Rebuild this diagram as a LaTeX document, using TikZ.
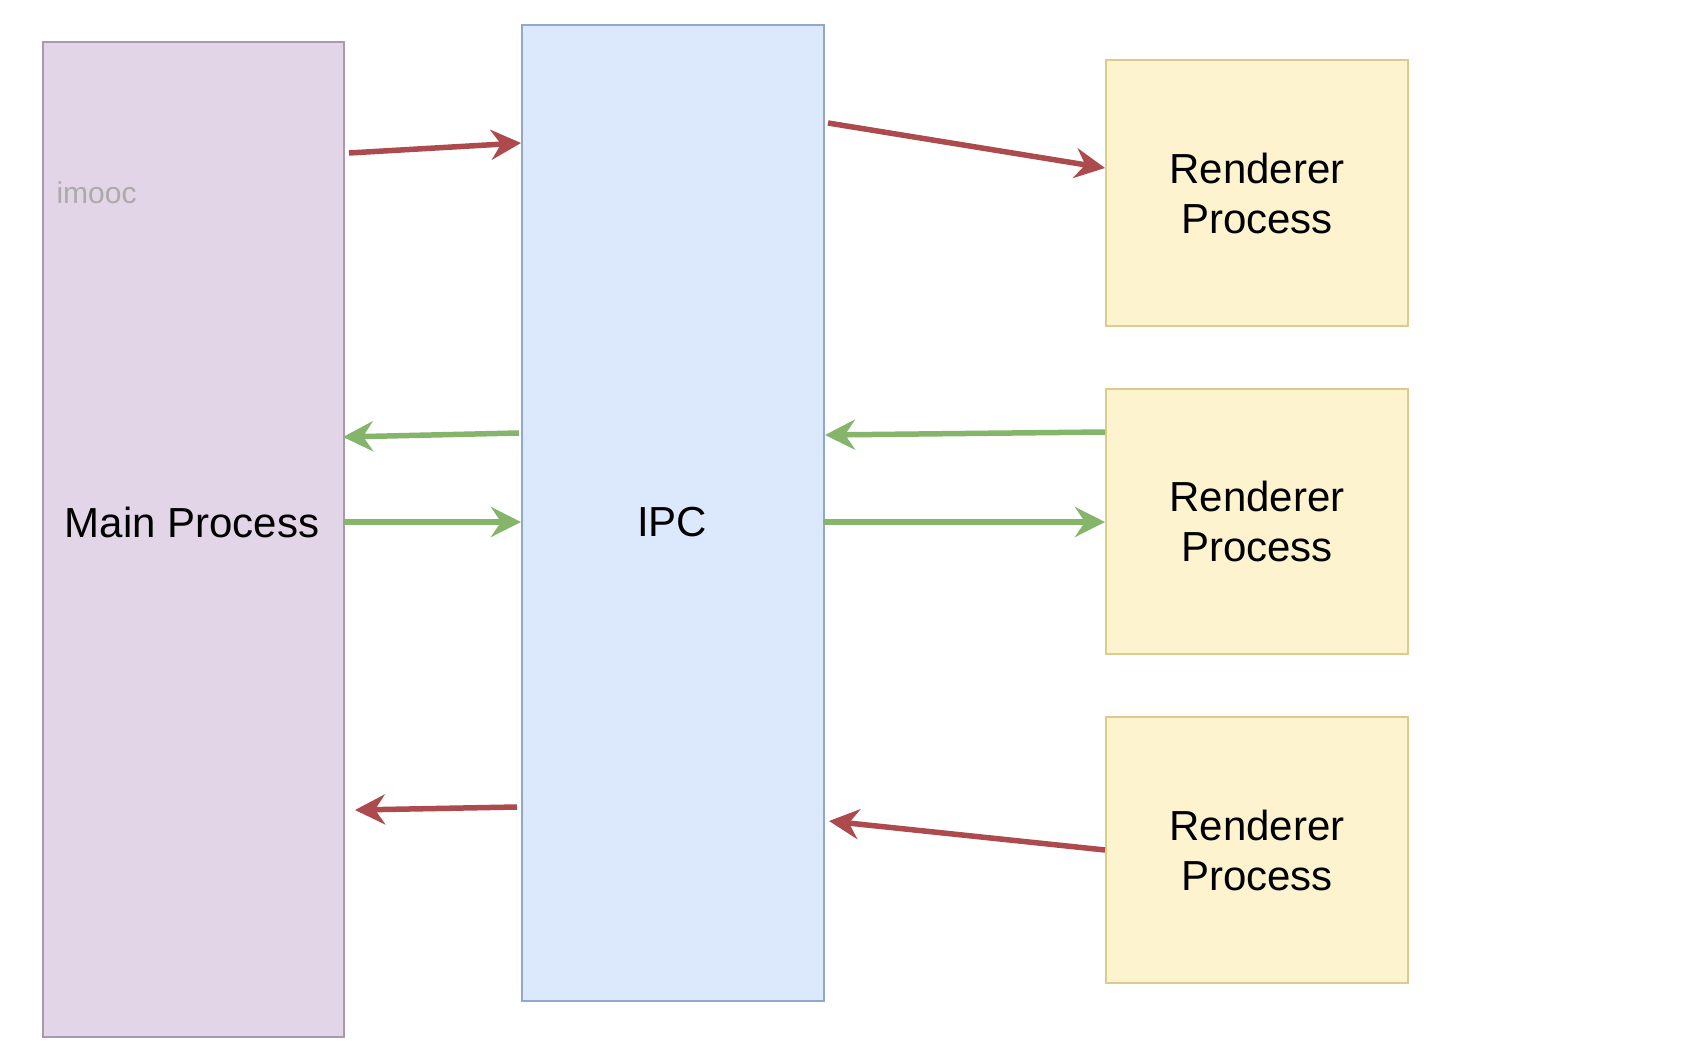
\documentclass[tikz,border=0pt]{standalone}
\usepackage{fontspec}
\setmainfont{Liberation Sans}
\usetikzlibrary{arrows.meta}
\definecolor{mainfill}{HTML}{E1D5E7}
\definecolor{mainline}{HTML}{A898B2}
\definecolor{ipcfill}{HTML}{DCE8FB}
\definecolor{ipcline}{HTML}{8FA8CF}
\definecolor{renfill}{HTML}{FDF3CF}
\definecolor{renline}{HTML}{DCCB8A}
\definecolor{redarrow}{HTML}{AC4A4E}
\definecolor{greenarrow}{HTML}{85B56A}
\tikzset{
  box/.style={draw, line width=2pt, rectangle, anchor=north west, inner sep=0pt},
  bigtext/.style={font=\fontsize{42}{50}\selectfont, align=center, text=black},
  conn/.style={line width=5.5pt, -{Stealth[length=30pt,width=30pt,inset=10pt]}},
  redconn/.style={conn, draw=redarrow},
  greenconn/.style={conn, draw=greenarrow},
}
\begin{document}
\begin{tikzpicture}[x=1pt,y=-1pt]
\useasboundingbox (0,0) rectangle (1684,1046);
\fill[white] (0,0) rectangle (1684,1046);
% boxes
\node[box, fill=mainfill, draw=mainline, minimum width=301pt, minimum height=995pt] (main) at (42,41) {};
\node[box, fill=ipcfill, draw=ipcline, minimum width=302pt, minimum height=976pt] (ipc) at (521,24) {};
\node[box, fill=renfill, draw=renline, minimum width=302pt, minimum height=266pt, bigtext] (r1) at (1105,59) {Renderer\\Process};
\node[box, fill=renfill, draw=renline, minimum width=302pt, minimum height=265pt, bigtext] (r2) at (1105,388) {Renderer\\Process};
\node[box, fill=renfill, draw=renline, minimum width=302pt, minimum height=266pt, bigtext] (r3) at (1105,716) {Renderer\\Process};
% texts
\node[bigtext] (maintext) at (192,522) {Main Process};
\node[bigtext] (ipctext) at (672,522) {IPC};
\node[anchor=west, font=\fontsize{30}{36}\selectfont, text=black!33] (imooc) at (53,193) {imooc};
% connector end points
\coordinate (a1s) at (349,153);
\coordinate (a1e) at (521,143);
\coordinate (a2s) at (828,123);
\coordinate (a2e) at (1105,168);
\coordinate (g1s) at (519,433);
\coordinate (g1e) at (343,437);
\coordinate (g2s) at (1105,432);
\coordinate (g2e) at (825,435);
\coordinate (g3s) at (343,522);
\coordinate (g3e) at (521,522);
\coordinate (g4s) at (823,522);
\coordinate (g4e) at (1105,522);
\coordinate (a3s) at (517,807);
\coordinate (a3e) at (355,810);
\coordinate (a4s) at (1105,850);
\coordinate (a4e) at (829,821);
% connectors
\draw[redconn] (a1s) -- (a1e);
\draw[redconn] (a2s) -- (a2e);
\draw[greenconn] (g1s) -- (g1e);
\draw[greenconn] (g2s) -- (g2e);
\draw[greenconn] (g3s) -- (g3e);
\draw[greenconn] (g4s) -- (g4e);
\draw[redconn] (a3s) -- (a3e);
\draw[redconn] (a4s) -- (a4e);
\end{tikzpicture}
\end{document}
